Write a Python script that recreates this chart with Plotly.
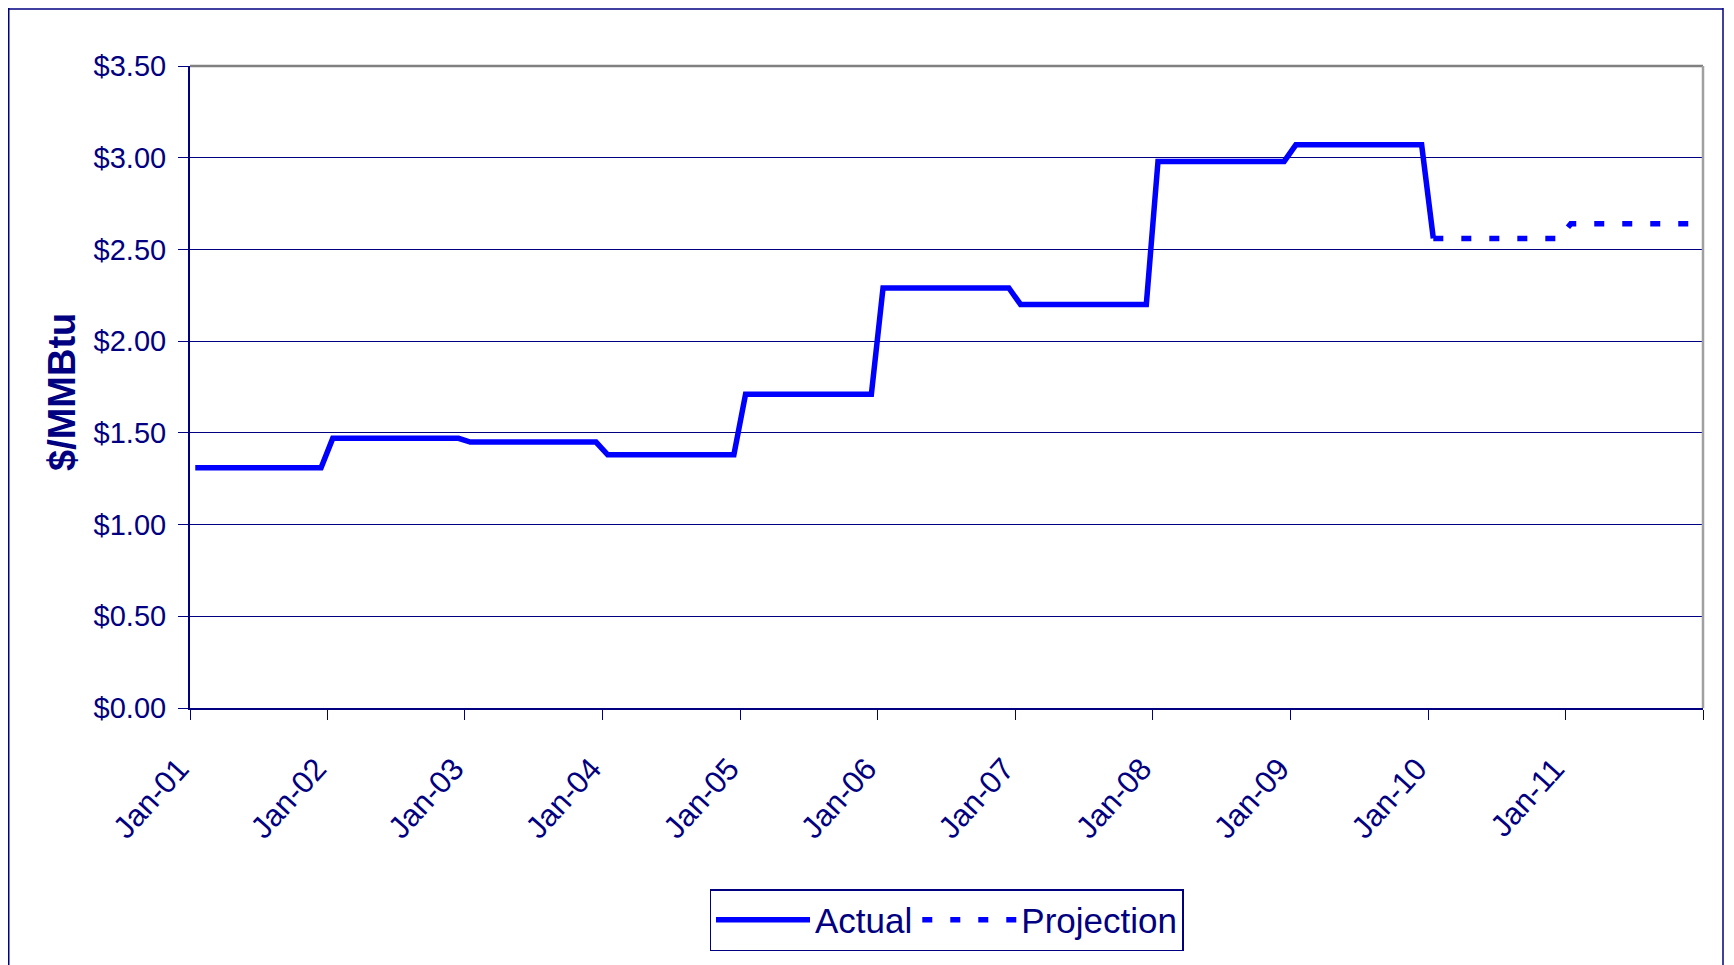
import plotly.graph_objects as go
import pandas as pd

# ---------------- data (monthly, plotted at mid-month) ----------------
actual_dates = [d.strftime("%Y-%m-15") for d in pd.date_range("2001-01-01", "2010-01-01", freq="MS")]
actual_values = [
    1.31, 1.31, 1.31, 1.31, 1.31, 1.31, 1.31, 1.31, 1.31, 1.31, 1.31, 1.31,  # 2001
    1.47, 1.47, 1.47, 1.47, 1.47, 1.47, 1.47, 1.47, 1.47, 1.47, 1.47, 1.47,  # 2002
    1.45, 1.45, 1.45, 1.45, 1.45, 1.45, 1.45, 1.45, 1.45, 1.45, 1.45, 1.45,  # 2003
    1.38, 1.38, 1.38, 1.38, 1.38, 1.38, 1.38, 1.38, 1.38, 1.38, 1.38, 1.38,  # 2004
    1.71, 1.71, 1.71, 1.71, 1.71, 1.71, 1.71, 1.71, 1.71, 1.71, 1.71, 1.71,  # 2005
    2.29, 2.29, 2.29, 2.29, 2.29, 2.29, 2.29, 2.29, 2.29, 2.29, 2.29, 2.29,  # 2006
    2.20, 2.20, 2.20, 2.20, 2.20, 2.20, 2.20, 2.20, 2.20, 2.20, 2.20, 2.20,  # 2007
    2.98, 2.98, 2.98, 2.98, 2.98, 2.98, 2.98, 2.98, 2.98, 2.98, 2.98, 2.98,  # 2008
    3.07, 3.07, 3.07, 3.07, 3.07, 3.07, 3.07, 3.07, 3.07, 3.07, 3.07, 3.07,  # 2009
    2.56,                                                                      # Jan 2010
]

projection_dates = [d.strftime("%Y-%m-15") for d in pd.date_range("2010-01-01", "2011-12-01", freq="MS")]
projection_values = [
    2.56, 2.56, 2.56, 2.56, 2.56, 2.56, 2.56, 2.56, 2.56, 2.56, 2.56, 2.56,  # 2010
    2.64, 2.64, 2.64, 2.64, 2.64, 2.64, 2.64, 2.64, 2.64, 2.64, 2.64, 2.64,  # 2011
]

x_tick_dates = ["2001-01-01", "2002-01-01", "2003-01-01", "2004-01-01", "2005-01-01", "2006-01-01",
                "2007-01-01", "2008-01-01", "2009-01-01", "2010-01-01", "2011-01-01", "2012-01-01"]
x_tick_labels = ["Jan-01", "Jan-02", "Jan-03", "Jan-04", "Jan-05", "Jan-06",
                 "Jan-07", "Jan-08", "Jan-09", "Jan-10", "Jan-11", ""]
y_tick_values = [0, 0.5, 1.0, 1.5, 2.0, 2.5, 3.0, 3.5]
y_tick_labels = ["$0.00", "$0.50", "$1.00", "$1.50", "$2.00", "$2.50", "$3.00", "$3.50"]

# ---------------- styling ----------------
NAVY = "#000080"
BLUE = "#0000FF"
FONT = "Liberation Sans, Arial, sans-serif"

# page is offset by the browser's 8px body margin; figure coords = page coords - 8
OFF = 8
W, H = 1734 - OFF, 965 - OFF
ML = 190 - OFF
MT = 66 - OFF
PLOT_RIGHT = 1703 - OFF
PLOT_BOTTOM = 708 - OFF
MR = W - PLOT_RIGHT
MB = H - PLOT_BOTTOM
PW, PH = W - ML - MR, H - MT - MB


def px_x(p):  # page pixel -> paper x
    return (p - OFF - ML) / PW


def px_y(p):  # page pixel -> paper y
    return (PLOT_BOTTOM - (p - OFF)) / PH


fig = go.Figure()
fig.add_trace(go.Scatter(
    x=actual_dates, y=actual_values, name="Actual", mode="lines",
    line=dict(color=BLUE, width=5.5), hoverinfo="skip",
))
fig.add_trace(go.Scatter(
    x=projection_dates, y=projection_values, name="Projection", mode="lines",
    line=dict(color=BLUE, width=5.5, dash="10px,18px"), hoverinfo="skip",
))

fig.update_layout(
    width=W, height=H,
    margin=dict(l=ML, r=MR, t=MT, b=MB),
    paper_bgcolor="white", plot_bgcolor="white",
    font=dict(family=FONT, color=NAVY, size=29),
    showlegend=True,
    legend=dict(
        orientation="h", x=0.5, xanchor="center", y=px_y(889), yanchor="top",
        bordercolor=NAVY, borderwidth=1.5, bgcolor="white",
        font=dict(family=FONT, size=35, color=NAVY),
        itemwidth=94, tracegroupgap=0,
    ),
    xaxis=dict(
        type="date", range=["2001-01-01", "2012-01-01"],
        tickmode="array", tickvals=x_tick_dates, ticktext=x_tick_labels,
        tickangle=-48, ticks="outside", ticklen=10, tickwidth=1, tickcolor=NAVY,
        ticklabelstandoff=18, ticklabelshift=-11,
        tickfont=dict(family=FONT, size=31, color=NAVY),
        showgrid=False, zeroline=False,
        showline=True, linecolor=NAVY, linewidth=2,
    ),
    yaxis=dict(
        range=[0, 3.5], tickmode="array", tickvals=y_tick_values, ticktext=y_tick_labels,
        ticks="outside", ticklen=10, tickwidth=1, tickcolor=NAVY,
        ticklabelstandoff=6,
        tickfont=dict(family=FONT, size=29, color=NAVY),
        showgrid=True, gridcolor=NAVY, gridwidth=1,
        zeroline=False, showline=True, linecolor=NAVY, linewidth=2,
    ),
    annotations=[dict(
        text="<b>$/MMBtu</b>", xref="paper", yref="paper",
        x=px_x(62), y=px_y(392), xanchor="center", yanchor="middle",
        textangle=-90, showarrow=False,
        font=dict(family=FONT, size=38, color=NAVY),
    )],
    shapes=[
        # outer chart border (left, top, right)
        dict(type="line", xref="paper", yref="paper",
             x0=px_x(8.75), x1=px_x(8.75), y0=px_y(4), y1=px_y(1000),
             line=dict(color=NAVY, width=1.5), layer="below"),
        dict(type="line", xref="paper", yref="paper",
             x0=px_x(8.75), x1=px_x(1723), y0=px_y(9), y1=px_y(9),
             line=dict(color=NAVY, width=1.5), layer="below"),
        dict(type="line", xref="paper", yref="paper",
             x0=px_x(1723), x1=px_x(1723), y0=px_y(4), y1=px_y(1000),
             line=dict(color=NAVY, width=1.5), layer="below"),
        # top & right plot-area border in grey
        dict(type="line", xref="paper", yref="paper", x0=0, x1=1, y0=1, y1=1,
             line=dict(color="#808080", width=2.5)),
        dict(type="line", xref="paper", yref="paper", x0=1, x1=1, y0=0, y1=1,
             line=dict(color="#A0A0A0", width=2.5)),
    ],
    hovermode=False,
)

fig.write_html("out.html")
